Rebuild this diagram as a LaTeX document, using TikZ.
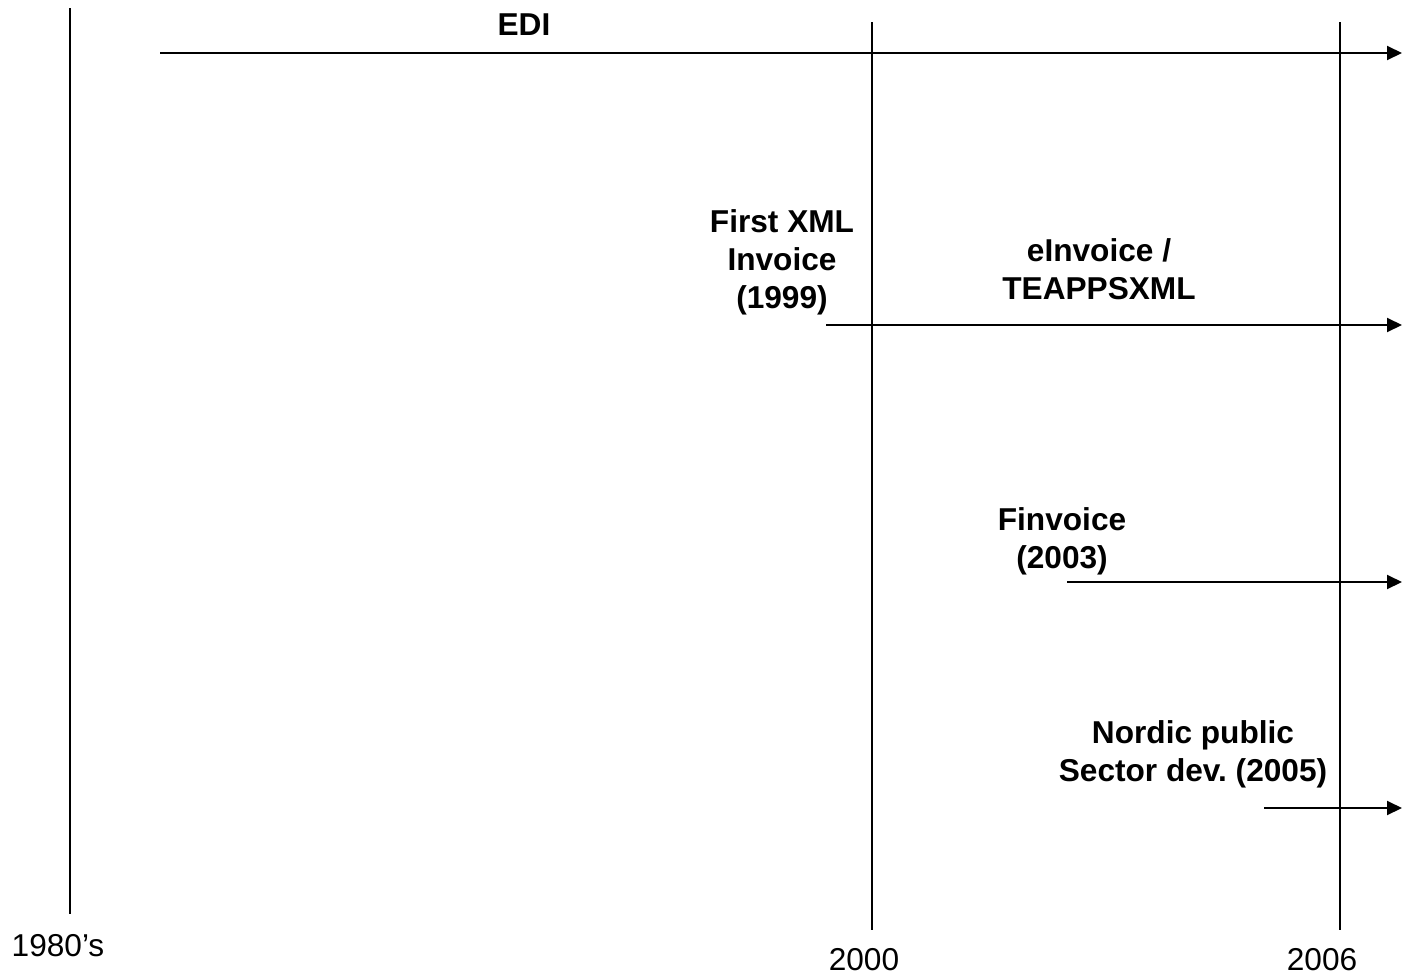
\documentclass[tikz,border=0pt]{standalone}
\usepackage{fontspec}
\setmainfont{Liberation Sans}
\usetikzlibrary{arrows.meta,positioning}

\begin{document}
\begin{tikzpicture}[x=0.02cm,y=-0.02cm]
      \useasboundingbox (0,0) rectangle (1403,977);
      % ends of the year lines and of the arrows
      \coordinate (Yt) at (70,8);     \coordinate (Yb) at (70,914);
      \coordinate (At) at (872,22);   \coordinate (Ab) at (872,930);
      \coordinate (Bt) at (1340,22);  \coordinate (Bb) at (1340,930);
      \coordinate (EDIs) at (160,53);  \coordinate (EDIe) at (1402,53);
      \coordinate (XMLs) at (826,325); \coordinate (XMLe) at (1402,325);
      \coordinate (FINs) at (1067,582);\coordinate (FINe) at (1402,582);
      \coordinate (NORs) at (1264,808);\coordinate (NORe) at (1402,808);
      \begin{scope}[every node/.style={align=center,font=\fontsize{18}{21.6}\selectfont\bfseries}]
        \node (EDI) at (524,25) {EDI};
        \node (XML) at (782,262) {First XML\\Invoice\\(1999)};
        \node (EIN) at (1099,269) {eInvoice /\\TEAPPSXML};
        \node (FIN) at (1062,541) {Finvoice\\(2003)};
        \node (NOR) at (1193,754) {Nordic public\\Sector dev.\ (2005)};
      \end{scope}
      \begin{scope}[every node/.style={font=\fontsize{18}{21.6}\selectfont}]
        \node (Y80) at (58,946) {1980’s};
        \node (Y00) at (864,960) {2000};
        \node (Y06) at (1322,960) {2006};
      \end{scope}
      \begin{scope}
        [every edge/.style={draw= black, line width=1.1pt},
        arr/.style={-{Triangle[length=0.3cm,width=0.28cm]}}]
        \path (Yt) edge (Yb);
        \path (At) edge (Ab);
        \path (Bt) edge (Bb);
        \path (EDIs) edge[arr] (EDIe);
        \path (XMLs) edge[arr] (XMLe);
        \path (FINs) edge[arr] (FINe);
        \path (NORs) edge[arr] (NORe);
      \end{scope}
    \end{tikzpicture}
\end{document}
